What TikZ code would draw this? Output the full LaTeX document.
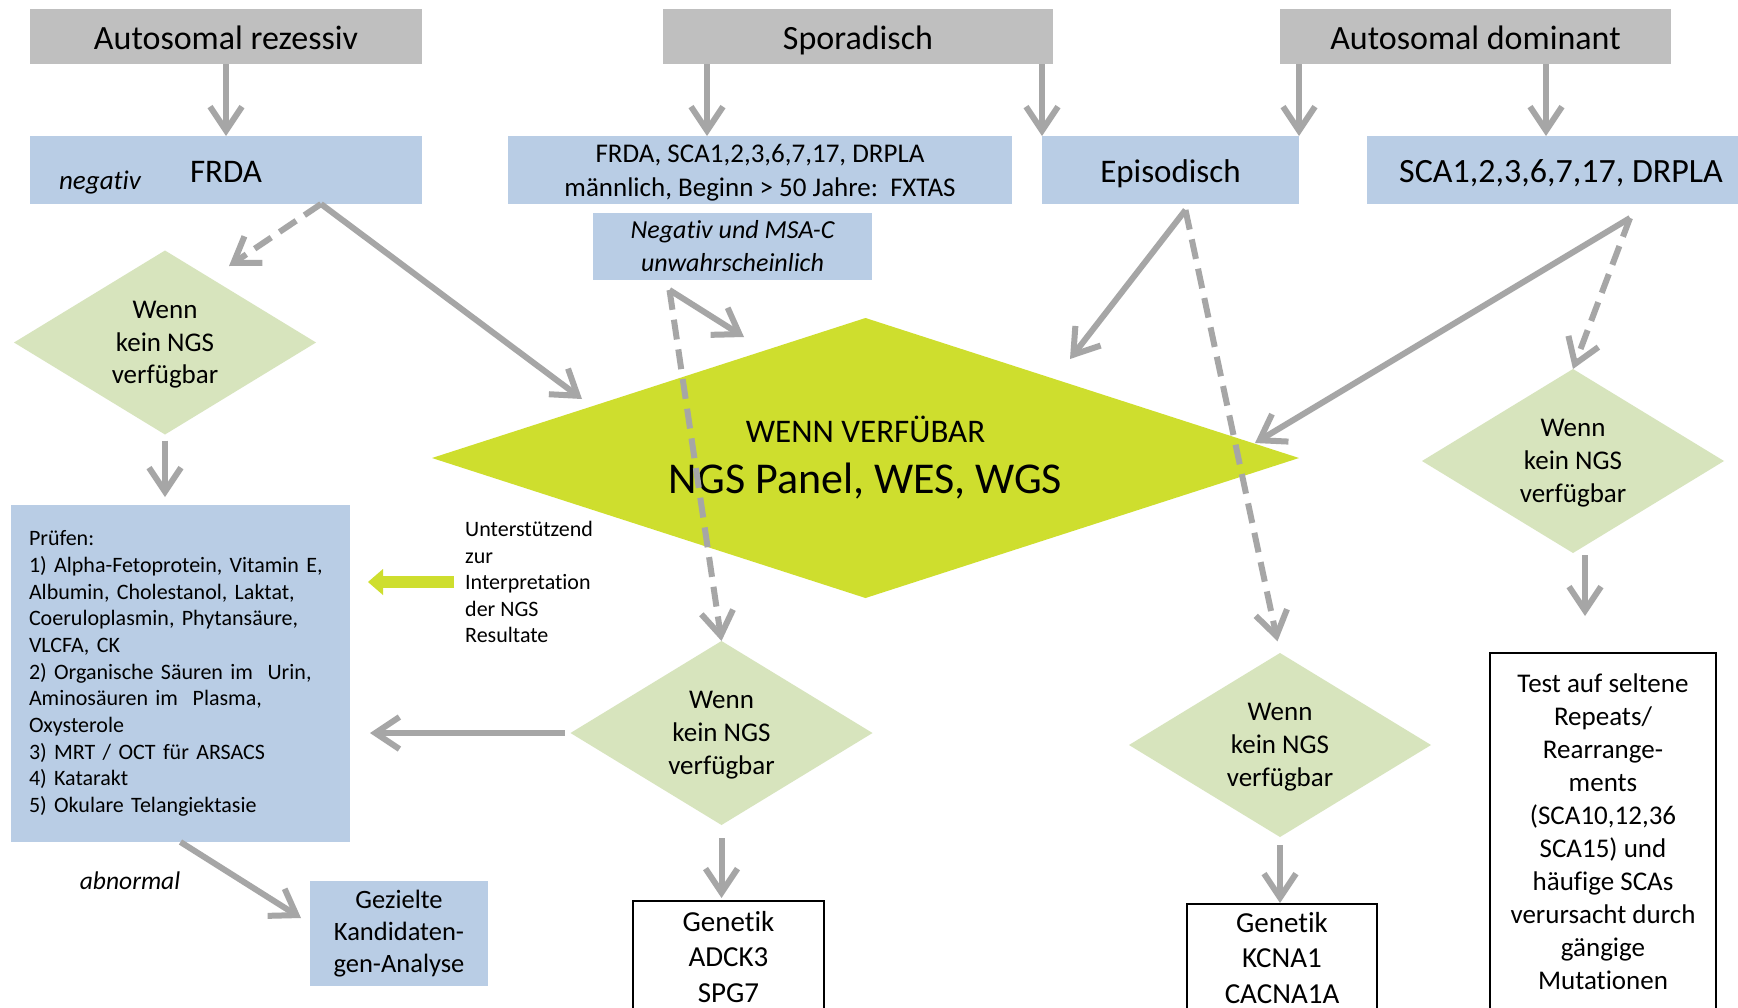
\documentclass[tikz,border=0pt]{standalone}
\usepackage{fontspec}
\setmainfont{Carlito}[Ligatures=NoCommon]
\usepackage{tikz}
\usetikzlibrary{shapes.geometric,arrows.meta}
\definecolor{hdrgray}{HTML}{BFBFBF}
\definecolor{boxblue}{HTML}{B9CDE5}
\definecolor{askgreen}{HTML}{D7E4BD}
\definecolor{ngsgreen}{HTML}{CEDE2E}
\definecolor{arrgray}{HTML}{A6A6A6}
\newcommand{\fsz}[2]{\fontsize{#1}{#2}\selectfont}

\begin{document}
\begin{tikzpicture}[x=1pt,y=-1pt,
  hdr/.style={fill=hdrgray,minimum height=55pt,inner sep=0pt,outer sep=0pt,text height=26pt,text depth=0pt,font=\fsz{34}{40}},
  bbox/.style={fill=boxblue,inner sep=0pt,outer sep=0pt,align=center},
  one/.style={text height=25pt,text depth=0pt,font=\fsz{33}{40}},
  ask/.style={diamond,fill=askgreen,aspect=1.6,inner sep=0pt,outer sep=0pt,minimum width=302pt,minimum height=184pt,align=center,text depth=0pt,font=\fsz{27}{32.7}},
  gen/.style={draw=black,line width=1.5pt,inner sep=0pt,outer sep=0pt,align=center},
  arr/.style={draw=arrgray,line width=6pt,-{Straight Barb[length=24pt,width=32pt]}},
  darr/.style={arr,dash pattern=on 20pt off 10pt},
  garr/.style={draw=ngsgreen,line width=12pt,-{Triangle[length=15pt,width=26pt,line width=0pt]}}]
\fill[white] (0,0) rectangle (1738,1007);
\useasboundingbox (0,0) rectangle (1738,1007);

\node[hdr,minimum width=392pt] (ar) at (226,36.5) {Autosomal rezessiv};
\node[hdr,minimum width=390pt] (spor) at (858,36.5) {Sporadisch};
\node[hdr,minimum width=391pt] (ad) at (1475.5,36.5) {Autosomal dominant};

\node[bbox,one,minimum width=392pt,minimum height=68pt] (frda) at (226,170) {FRDA};
\node[font=\itshape\fsz{27}{32}] (negtxt) at (100,183) {negativ};
\node[bbox,minimum width=504pt,minimum height=68pt,text depth=0pt,font=\fsz{27}{34}] (fs) at (760,170) {FRDA, SCA1,2,3,6,7,17, DRPLA\\männlich, Beginn > 50 Jahre:\ \ FXTAS};
\node[bbox,one,minimum width=257pt,minimum height=68pt] (epi) at (1170.5,170) {Episodisch};
\node[bbox,one,minimum width=388pt,minimum height=68pt,font=\fsz{34}{40}] (sca) at (1561,170) {SCA1,2,3,6,7,17, DRPLA};
\node[bbox,minimum width=279pt,minimum height=67pt,font=\itshape\fsz{26}{33}] (neg) at (732.5,246.5) {Negativ und MSA-C\\unwahrscheinlich};

\node[diamond,fill=ngsgreen,aspect=3,inner sep=0pt,outer sep=0pt,minimum width=867pt,minimum height=280pt,align=center,font=\fsz{33}{51}] (ngs) at (865.5,458) {{\fsz{33}{40}WENN VERFÜBAR}\\{\fsz{44}{50}NGS Panel, WES, WGS}};

\node[ask] (ask1) at (165,342.5) {Wenn\\kein NGS\\verfügbar};
\node[ask] (ask2) at (721.5,733) {Wenn\\kein NGS\\verfügbar};
\node[ask] (ask3) at (1280,745) {Wenn\\kein NGS\\verfügbar};
\node[ask] (ask4) at (1573,461) {Wenn\\kein NGS\\verfügbar};

\node[bbox,anchor=north west,minimum width=339pt,minimum height=337pt,text width=303pt,align=left,font=\fsz{22}{26.7}] (prf) at (11,505) {Prüfen:\\1) Alpha-Fetoprotein, Vitamin E,\\Albumin, Cholestanol, Laktat,\\Coeruloplasmin, Phytansäure,\\VLCFA, CK\\2) Organische Säuren im\ \ Urin,\\Aminosäuren im\ \ Plasma,\\Oxysterole\\3) MRT / OCT für ARSACS\\4) Katarakt\\5) Okulare Telangiektasie};
\node[anchor=west,align=left,inner sep=0pt,font=\fsz{22}{26.5}] (supp) at (465,582) {Unterstützend\\zur\\Interpretation\\der NGS\\Resultate};
\node[font=\itshape\fsz{25.5}{30}] (abn) at (130,881) {abnormal};
\node[bbox,minimum width=178pt,minimum height=105pt,font=\fsz{26.5}{31.6}] (gez) at (399,933.5) {Gezielte\\Kandidaten-\\gen-Analyse};

\node[gen,anchor=north,minimum width=191pt,minimum height=112pt,font=\fsz{29}{35.5}] (gen1) at (728.5,901) {Genetik\\ADCK3\\SPG7};
\node[gen,anchor=north,minimum width=190pt,minimum height=108pt,font=\fsz{29}{35.5}] (gen2) at (1282,904) {Genetik\\KCNA1\\CACNA1A};
\node[gen,minimum width=226pt,minimum height=358pt,font=\fsz{27}{33}] (test) at (1603,832) {Test auf seltene\\Repeats/\\Rearrange-\\ments\\(SCA10,12,36\\SCA15) und\\häufige SCAs\\verursacht durch\\gängige\\Mutationen};

% ends of the arrows
\coordinate (frdaout) at ([xshift=95pt]frda.south);
\coordinate (negout) at ([xshift=-63pt,yshift=-10pt]neg.south);
\coordinate (epiout) at ([xshift=15pt,yshift=-6pt]epi.south);
\coordinate (scaout) at ([xshift=69pt,yshift=-14pt]sca.south);
\coordinate (a4) at ([xshift=12pt]ask4.south);
\coordinate (t1) at (229,266);
\coordinate (t2) at (582,399);
\coordinate (t3) at (744,337);
\coordinate (t4) at (1070,359);
\coordinate (t5) at (1255,443);
\coordinate (t6) at (301,918);

\draw[arr] (ar) -- (frda);
\draw[arr] ([xshift=-151pt]spor.south) -- ([xshift=-53pt]fs.north);
\draw[arr] (spor.south -| epi.north west) -- (epi.north west);
\draw[arr] (ad.south -| epi.north east) -- (epi.north east);
\draw[arr] ([xshift=70.5pt]ad.south) -- ([xshift=-15pt]sca.north);

\draw[darr] (frdaout) -- (t1);
\draw[arr] (frdaout) -- (t2);
\draw[arr] (negout) -- (t3);
\draw[darr] (negout) -- (ask2.north);
\draw[arr] (epiout) -- (t4);
\draw[darr,shorten >=12pt] (epiout) -- (ask3.north);
\draw[arr] (scaout) -- (t5);
\draw[darr] (scaout) -- (ask4.north);

\draw[arr,shorten <=6pt,shorten >=8pt] (ask1.south) -- (prf.north -| ask1.south);
\draw[arr,shorten <=13pt,shorten >=3pt] (ask2.south) -- (gen1.north -| ask2.south);
\draw[arr,shorten <=8pt,shorten >=1pt] (ask3.south) -- (gen2.north -| ask3.south);
\draw[arr,shorten <=2pt,shorten >=37pt] (a4) -- (a4 |- test.north);
\draw[arr,shorten <=6pt,shorten >=20pt] (ask2.west) -- (prf.east |- ask2.west);
\draw[garr,shorten <=11pt,shorten >=18pt] (supp.west) -- (prf.east |- supp.west);
\draw[arr] (prf.south) -- (t6);
\end{tikzpicture}
\end{document}
